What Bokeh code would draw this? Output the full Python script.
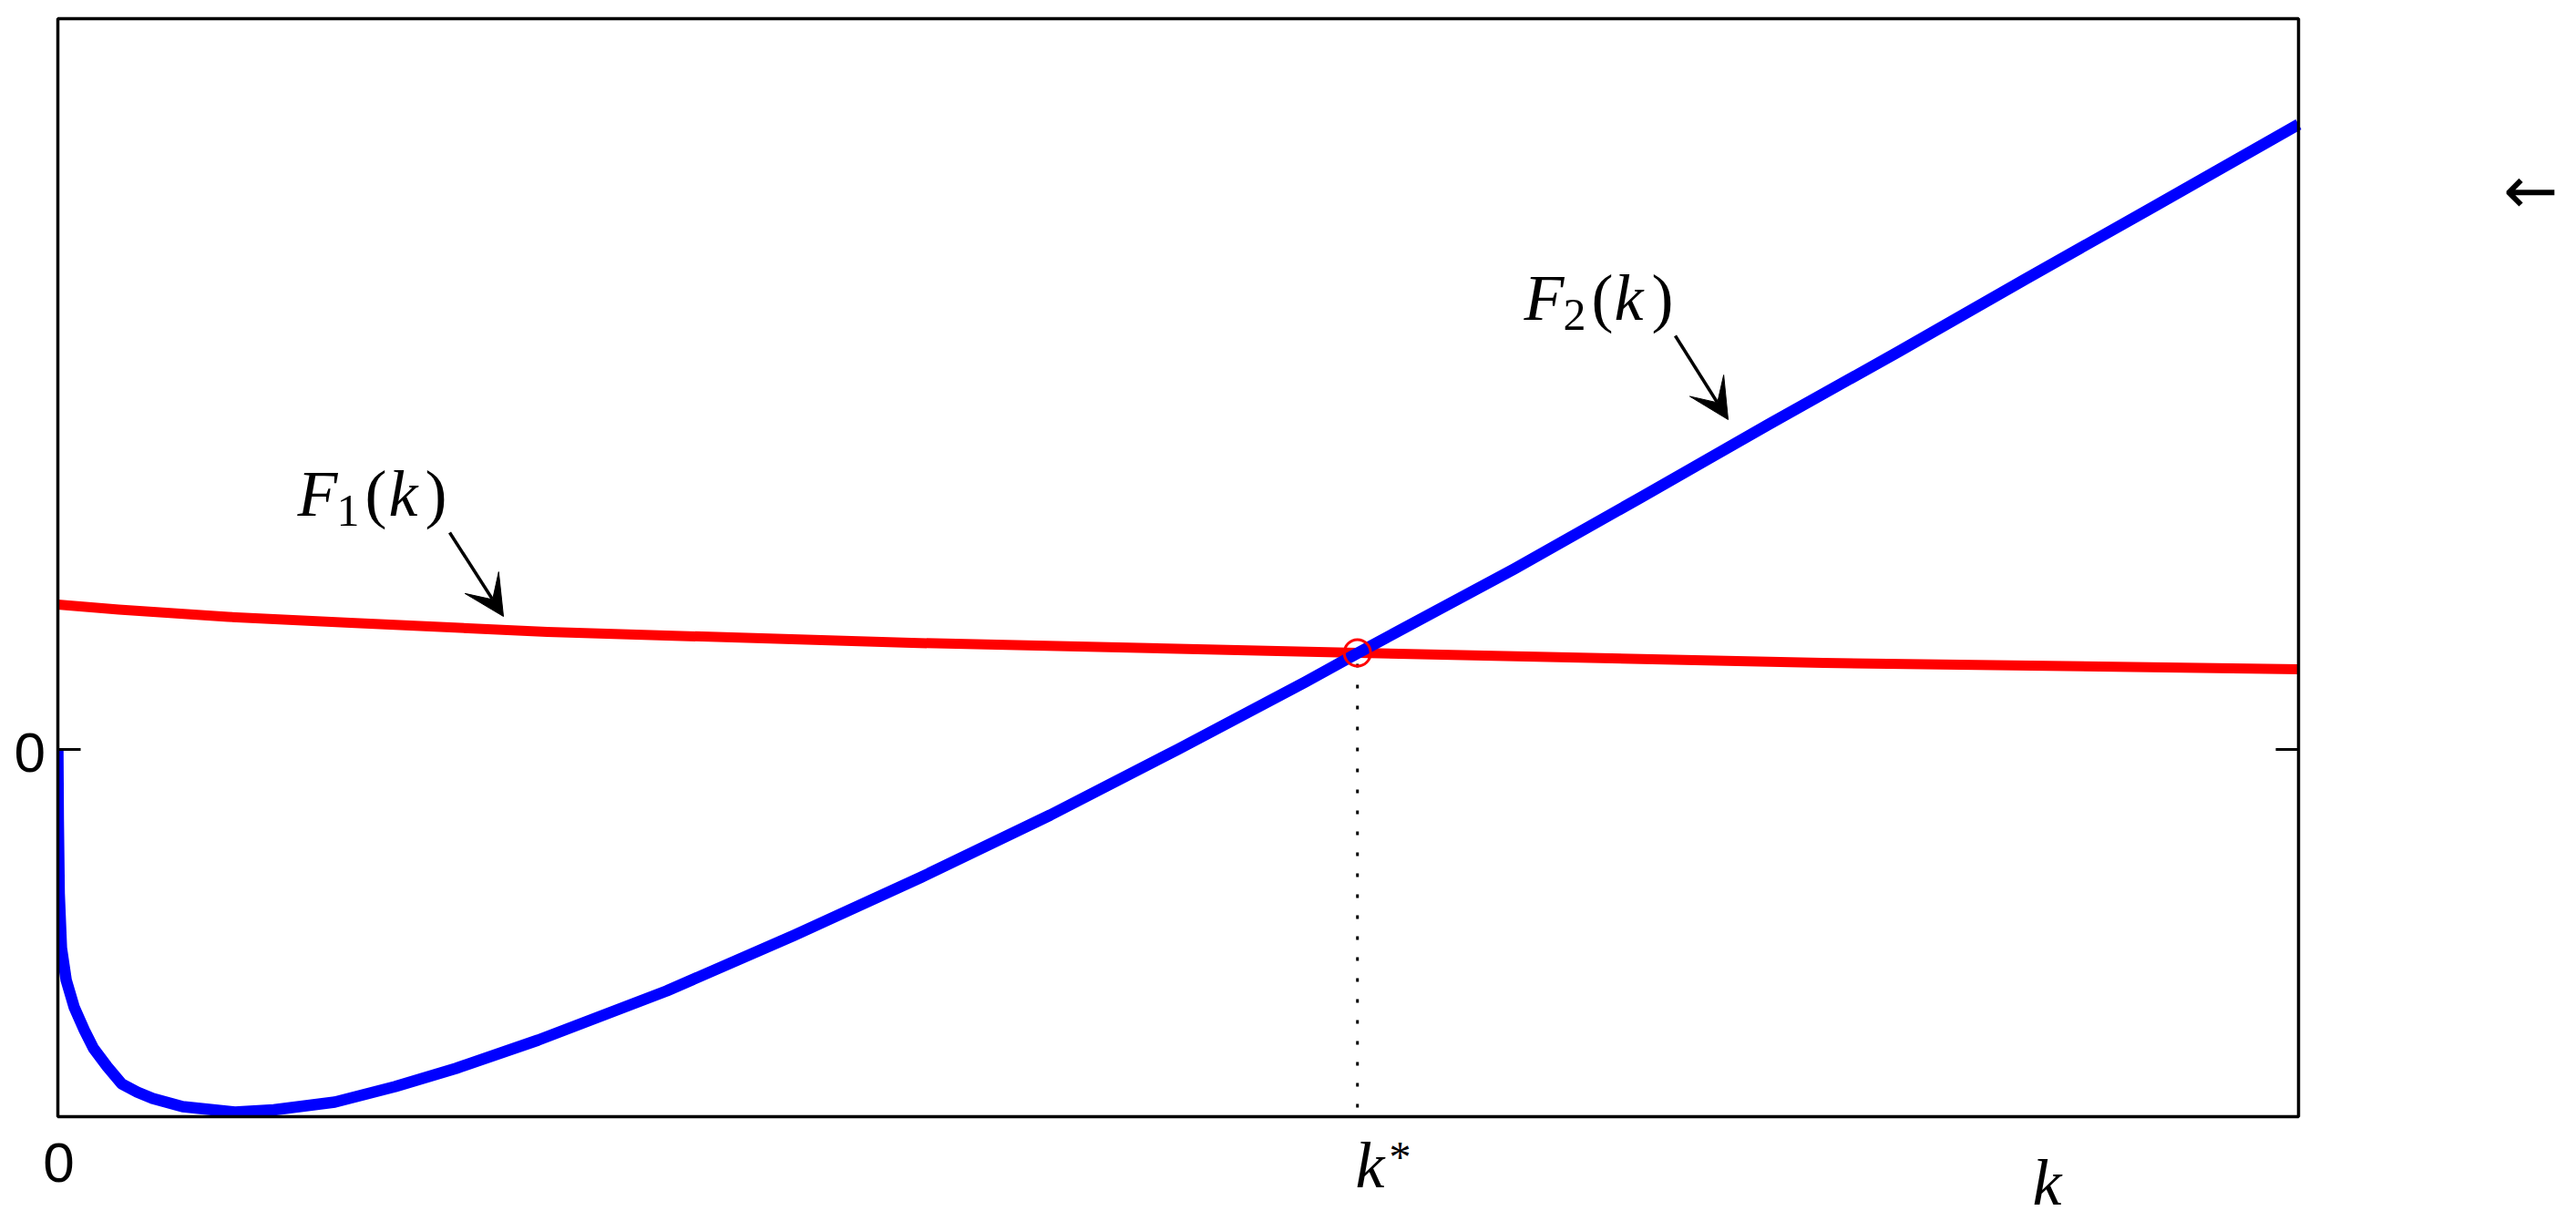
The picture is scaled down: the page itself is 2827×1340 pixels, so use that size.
import numpy as np
from bokeh.plotting import figure
from bokeh.models import Range1d, Label, Arrow, VeeHead, BoxAnnotation
from bokeh.embed import file_html
from bokeh.resources import INLINE

# ---------------- data ----------------
k_f1 = [0.0, 0.272, 0.760, 1.305, 2.184, 3.810, 5.803, 7.877, 10.0]
f1 = [1.59, 1.535, 1.455, 1.39, 1.29, 1.17, 1.06, 0.95, 0.88]

k_f2 = [0.0, 0.002, 0.006, 0.016, 0.037, 0.073, 0.118, 0.159, 0.220, 0.285,
        0.354, 0.423, 0.557, 0.790, 0.964, 1.236, 1.505, 1.777, 2.143, 2.717,
        3.286, 3.855, 4.429, 4.998, 5.567, 5.803, 6.499, 7.068, 7.637, 8.211,
        8.780, 9.349, 10.0]
f2 = [0.00, -0.78, -1.58, -2.18, -2.53, -2.83, -3.08, -3.28, -3.48, -3.67,
      -3.76, -3.83, -3.92, -3.98, -3.955, -3.87, -3.70, -3.50, -3.19, -2.65,
      -2.04, -1.40, -0.72, 0.00, 0.74, 1.06, 1.98, 2.77, 3.57, 4.36,
      5.16, 5.95, 6.86]

k_star = 5.80
f_star = 1.06

x_ticks = [0]
x_tick_labels = ["0"]
y_ticks = [0]
y_tick_labels = ["0"]

# axes box (data limits of the drawn box)
X_BOX_MIN, X_BOX_MAX = 0.0, 10.0
Y_BOX_MIN, Y_BOX_MAX = -4.03, 8.02

# ---------------- geometry (page pixels) ----------------
W, H = 2824, 1338
PX_X0, PX_Y0 = 63.0, 822.0      # pixel of data (0, 0)
SX = 245.9                      # px per x unit
SY = 100.0                      # px per y unit


def dx(px):
    return (px - PX_X0) / SX


def dy(py):
    return (PX_Y0 - py) / SY


p = figure(width=W, height=H,
           x_range=Range1d(dx(0), dx(W)), y_range=Range1d(dy(H), dy(0)),
           output_backend="svg", toolbar_location=None,
           x_axis_location=None, y_axis_location=None,
           min_border=0, min_border_left=0, min_border_right=0,
           min_border_top=0, min_border_bottom=0)
p.background_fill_color = "white"
p.border_fill_color = "white"
p.outline_line_color = None
p.xgrid.visible = False
p.ygrid.visible = False

# ---------------- curves ----------------
p.line(k_f1, f1, line_color="#ff0000", line_width=11, line_join="round")
p.line(k_f2, f2, line_color="#0000ff", line_width=12.5, line_join="round")

# dotted drop line and intersection marker
p.segment(x0=[k_star], y0=[f_star], x1=[k_star], y1=[Y_BOX_MIN],
          line_color="black", line_width=3, line_dash="4 19", line_dash_offset=11)
p.scatter([k_star], [f_star], marker="circle", size=29, fill_color=None,
          line_color="#ff0000", line_width=3)

# inward tick marks on the left and right edges of the box
TICK_LEN = 25
p.ray(x=[X_BOX_MIN] * len(y_ticks), y=y_ticks, length=TICK_LEN, length_units="screen",
      angle=0.0, line_color="black", line_width=3)
p.ray(x=[X_BOX_MAX] * len(y_ticks), y=y_ticks, length=TICK_LEN, length_units="screen",
      angle=np.pi, line_color="black", line_width=3)

# curves are clipped at the box's left edge: white mask left of the box
p.add_layout(BoxAnnotation(left=dx(0), right=X_BOX_MIN, bottom=Y_BOX_MIN, top=Y_BOX_MAX,
                           fill_color="white", fill_alpha=1.0, line_color=None))
# axes box
p.add_layout(BoxAnnotation(left=X_BOX_MIN, right=X_BOX_MAX, bottom=Y_BOX_MIN, top=Y_BOX_MAX,
                           fill_color=None, fill_alpha=0.0, line_color="black",
                           line_alpha=1.0, line_width=3.5))

# ---------------- texts (positions in page pixels) ----------------
SANS = "Liberation Sans"
SERIF = "Liberation Serif"
TICK_SIZE = 62


def mid(py_baseline, size, k=0.34):
    """page y of the em-box middle for a given alphabetic baseline"""
    return py_baseline - k * size


# tick labels
for t, s in zip(y_ticks, y_tick_labels):
    p.add_layout(Label(x=dx(49.5), y=dy(mid(PX_Y0 - t * SY + 25, TICK_SIZE, 0.3465)),
                       text=s, text_font=SANS, text_font_size=f"{TICK_SIZE}px",
                       text_align="right", text_baseline="middle", text_color="black"))
for t, s in zip(x_ticks, x_tick_labels):
    p.add_layout(Label(x=t + dx(64) - dx(63), y=dy(mid(1296.5, TICK_SIZE, 0.3465)),
                       text=s, text_font=SANS, text_font_size=f"{TICK_SIZE}px",
                       text_align="center", text_baseline="middle", text_color="black"))

pieces = [
    # F_1(k)
    ("F", 326, 566, 72, "italic"),
    ("1", 369, 577, 50, "normal"),
    ("(", 400, 566, 72, "normal"),
    ("k", 426, 566, 72, "italic"),
    (")", 466, 566, 72, "normal"),
    # F_2(k)
    ("F", 1672, 351, 72, "italic"),
    ("2", 1715, 362, 50, "normal"),
    ("(", 1746, 351, 72, "normal"),
    ("k", 1771, 351, 72, "italic"),
    (")", 1812, 351, 72, "normal"),
    # k* tick label
    ("k", 1487, 1303, 72, "italic"),
    ("*", 1524, 1285, 48, "normal"),
    # x label
    ("k", 2230, 1322, 72, "italic"),
]
for txt, px, py, size, style in pieces:
    p.add_layout(Label(x=dx(px), y=dy(mid(py, size)), text=txt, text_font=SERIF,
                       text_font_size=f"{size}px", text_font_style=style,
                       text_align="left", text_baseline="middle",
                       text_color="black"))

# stray arrow symbol at the right
p.add_layout(Label(x=dx(2777), y=dy(208), text="\u2190", text_font="DejaVu Sans",
                   text_font_size="72px", text_align="center", text_baseline="middle",
                   text_color="black"))

arrows = [
    ((493, 584), (552, 676)),
    ((1838, 368), (1896, 460)),
]
for (sx0, sy0), (sx1, sy1) in arrows:
    p.add_layout(Arrow(end=VeeHead(size=44, fill_color="black", line_color="black", line_width=1),
                       x_start=dx(sx0), y_start=dy(sy0), x_end=dx(sx1), y_end=dy(sy1),
                       line_color="black", line_width=3.5))

open("out.html", "w").write(file_html(p, INLINE))
